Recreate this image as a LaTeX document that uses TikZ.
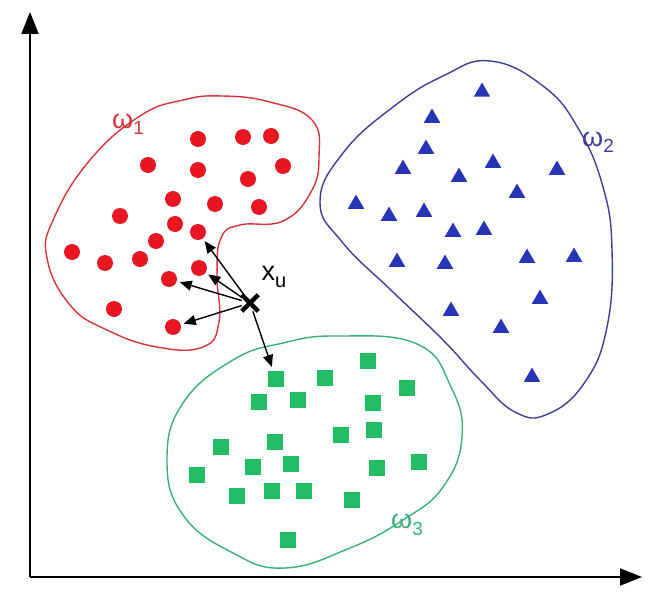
\documentclass[tikz,border=0pt]{standalone}
\usepackage{fontspec}
\setmainfont{Liberation Sans}
\usetikzlibrary{arrows.meta}
\usetikzlibrary{shapes.geometric}
\usetikzlibrary{shapes.misc}

\definecolor{redcls}{RGB}{232,22,34}
\definecolor{redline}{RGB}{214,52,58}
\definecolor{bluecls}{RGB}{40,52,182}
\definecolor{blueline}{RGB}{62,62,150}
\definecolor{greencls}{RGB}{34,188,100}
\definecolor{greenline}{RGB}{56,176,120}

\newcommand{\clslab}[1]{ω\raisebox{-0.45ex}{\fontsize{19}{19}\selectfont #1}}

\begin{document}
\begin{tikzpicture}[
  x=1pt, y=-1pt,
  dot/.style={
    circle,
    fill=redcls,
    inner sep=0pt,
    minimum size=16pt
  },
  tri/.style={
    regular polygon,
    regular polygon sides=3,
    fill=bluecls,
    inner sep=0pt,
    minimum size=19pt
  },
  sq/.style={
    rectangle,
    fill=greencls,
    inner sep=0pt,
    minimum size=16pt
  },
  blob/.style={line width=1.4pt, smooth cycle, tension=0.75},
  axis/.style={-{Triangle[length=22pt,width=17pt]}, line width=1.8pt},
  knn/.style={-{Triangle[length=12pt,width=10pt]}, line width=1.4pt, shorten >=3pt},
  lab/.style={font=\fontsize{27}{27}\selectfont, inner sep=0pt}
]
\useasboundingbox (0,0) rectangle (663,599);

% axes
\coordinate (origin) at (30,577);
\coordinate (ytop) at (30,12);
\coordinate (xend) at (642,577);
\draw[axis] (origin) -- (ytop);
\draw[axis] (origin) -- (xend);

% class outlines
\draw[blob, redline] plot coordinates {
  (183,100) (222,96) (270,102) (312,120) (319,157) (311,192) (283,221)
  (240,225) (221,238) (217,275) (219,322) (203,347) (157,347) (107,330)
  (70,305) (47,258) (54,218) (90,160) (140,116)};
\draw[blob, blueline] plot coordinates {
  (443,76) (490,61) (543,86) (578,128) (603,187) (612,250) (607,327)
  (585,382) (548,414) (515,412) (480,380) (443,340) (393,292) (343,243)
  (320,202) (343,153) (393,107)};
\draw[blob, greenline] plot coordinates {
  (283,343) (337,336) (417,344) (451,387) (462,437) (443,487) (403,520)
  (350,548) (285,568) (233,553) (183,515) (167,460) (183,403) (233,360)};

% omega_1 points
\foreach \px/\py [count=\i] in {198/139, 243/137, 271/136, 148/165, 198/170,
    283/166, 248/179, 173/199, 215/204, 259/207, 120/216, 175/224, 198/232,
    156/241, 72/252, 105/263, 140/259, 199/268, 169/279, 114/309, 173/327}
  \node[dot] (r\i) at (\px,\py) {};

% omega_2 points
\foreach \px/\py [count=\i] in {482/92, 432/118, 426/149, 403/169, 493/163,
    459/177, 557/170, 517/193, 356/204, 389/216, 424/212, 453/232, 484/230,
    397/262, 445/264, 527/258, 574/257, 540/299, 451/311, 501/328, 532/377}
  \node[tri] (b\i) at (\px,\py) {};

% omega_3 points
\foreach \px/\py [count=\i] in {276/379, 325/378, 368/361, 407/388, 259/402,
    298/400, 373/403, 341/435, 374/430, 221/447, 275/442, 253/467, 291/464,
    197/475, 377/468, 419/462, 237/496, 272/491, 304/491, 352/500, 288/540}
  \node[sq] (g\i) at (\px,\py) {};

% labels
\node[lab, text=redline] (w1) at (128,124) {\clslab{1}};
\node[lab, text=blueline] (w2) at (598,142) {\clslab{2}};
\node[lab, text=greenline] (w3) at (407,525) {\clslab{3}};

% unknown sample and its nearest neighbours
\node[cross out, draw, line width=4.5pt, minimum size=12pt, inner sep=0pt] (xu) at (250,303) {};
\node[lab] (xulab) at (274,277) {x\raisebox{-0.55ex}{\fontsize{20}{20}\selectfont u}};
\draw[knn] (xu) -- (r13);
\draw[knn] (xu) -- (r18);
\draw[knn] (xu) -- (r19);
\draw[knn] (xu) -- (r21);
\draw[knn, shorten >=4pt] (xu) -- (g1);

\end{tikzpicture}
\end{document}
